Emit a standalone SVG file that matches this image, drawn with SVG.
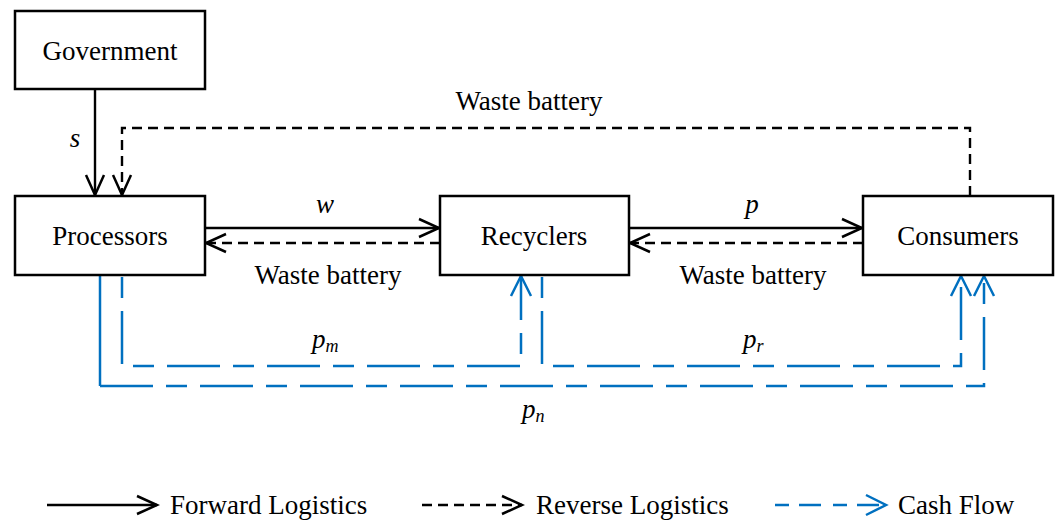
<svg xmlns="http://www.w3.org/2000/svg" width="1059" height="523" viewBox="0 0 1059 523">
<style>
  text { font-family: "Liberation Serif", "DejaVu Serif", serif; font-size: 27px; fill: #000; }
  .c { text-anchor: middle; }
  .i { font-style: italic; }
  .sub { font-size: 18px; font-style: italic; }
  .box { fill: #fff; stroke: #000; stroke-width: 2.5; }
  .fwd { fill: none; stroke: #000; stroke-width: 2.4; marker-end: url(#ab); }
  .rev { fill: none; stroke: #000; stroke-width: 2.4; stroke-dasharray: 10 6; marker-end: url(#ab); }
  .cash { fill: none; stroke: #0070C0; stroke-width: 2.5; stroke-dasharray: 21 13 53 13; marker-end: url(#au); }
</style>
<defs>
  <marker id="ab" markerUnits="userSpaceOnUse" markerWidth="26" markerHeight="26" viewBox="-23 -13 26 26" refX="0" refY="0" orient="auto">
    <path d="M-20,-9 L0,0 L-20,9" fill="none" stroke="#000" stroke-width="2.5"/>
  </marker>
  <marker id="au" markerUnits="userSpaceOnUse" markerWidth="26" markerHeight="26" viewBox="-23 -13 26 26" refX="0" refY="0" orient="auto">
    <path d="M-20,-10 L0,0 L-20,10" fill="none" stroke="#0070C0" stroke-width="2.5"/>
  </marker>
</defs>

<g id="connectors">
  <path id="e-gov-proc" class="fwd" d="M95,89 V195"/>
  <path id="e-cons-proc" class="rev" d="M970,196 V128 H122 V195"/>
  <path id="e-proc-rec" class="fwd" d="M205,228 H439"/>
  <path id="e-rec-proc" class="rev" d="M440,243 H206"/>
  <path id="e-rec-cons" class="fwd" d="M629,228 H862"/>
  <path id="e-cons-rec" class="rev" d="M863,243 H630"/>
  <path id="e-pm" class="cash" d="M122,277 V366 H521 V276"/>
  <path id="e-pr" class="cash" d="M542,277 V366 H961 V276"/>
  <g id="e-pn">
    <path d="M100,276 V386" fill="none" stroke="#0070C0" stroke-width="2.5"/>
    <path class="cash" style="stroke-dasharray: 53 13 21 13" d="M100,386 H984 V276"/>
  </g>
  <text x="75" y="147" class="c i">s</text>
  <text x="529" y="110" class="c">Waste battery</text>
  <text x="325" y="213" class="c i">w</text>
  <text x="328" y="284" class="c">Waste battery</text>
  <text x="752" y="213" class="c i">p</text>
  <text x="753" y="284" class="c">Waste battery</text>
  <text x="312" y="348" class="i">p<tspan class="sub" dy="4">m</tspan></text>
  <text x="743" y="348" class="i">p<tspan class="sub" dy="4">r</tspan></text>
  <text x="522" y="418" class="i">p<tspan class="sub" dy="4">n</tspan></text>
</g>

<g id="government">
  <rect class="box" x="15" y="11" width="190" height="78"/>
  <text x="110" y="60" class="c">Government</text>
</g>
<g id="processors">
  <rect class="box" x="15" y="196" width="190" height="79"/>
  <text x="110" y="245" class="c">Processors</text>
</g>
<g id="recyclers">
  <rect class="box" x="440" y="196" width="189" height="79"/>
  <text x="534" y="245" class="c">Recyclers</text>
</g>
<g id="consumers">
  <rect class="box" x="863" y="196" width="190" height="79"/>
  <text x="958" y="245" class="c">Consumers</text>
</g>

<g id="legend">
  <path class="fwd" d="M47,505 H157"/>
  <text x="170" y="514">Forward Logistics</text>
  <path class="rev" d="M422,505 H522"/>
  <text x="536" y="514">Reverse Logistics</text>
  <path class="cash" style="stroke-dasharray: 14 10 22 12" d="M775,505 H886"/>
  <text x="898" y="514">Cash Flow</text>
</g>
</svg>
